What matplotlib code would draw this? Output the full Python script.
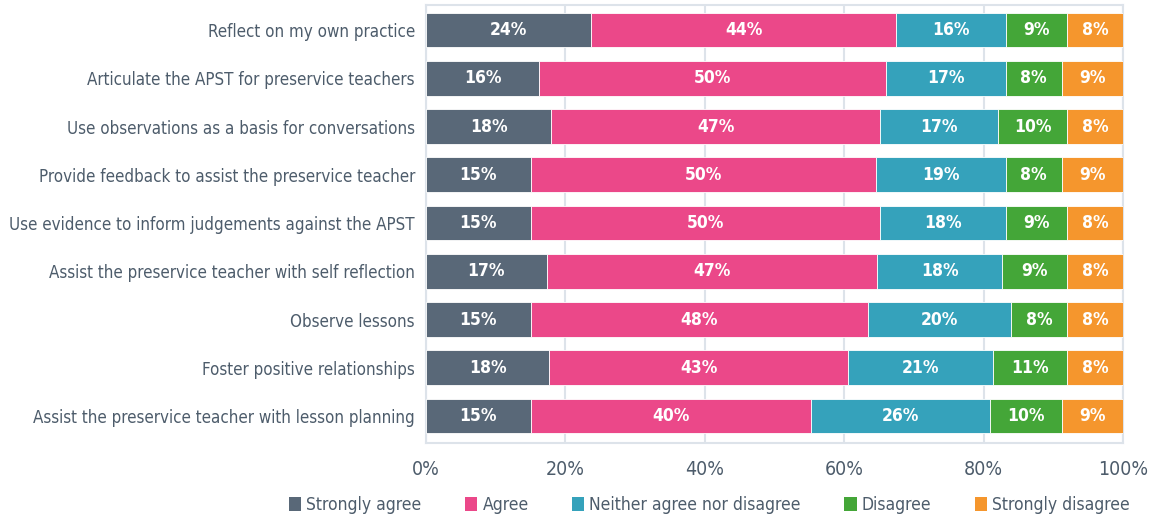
import matplotlib
matplotlib.use("Agg")
import matplotlib.pyplot as plt
from matplotlib.patches import Patch
import numpy as np

# DejaVu Sans Condensed stands in for the narrow face of the original
plt.rcParams["font.family"] = ["DejaVu Sans"]
plt.rcParams["font.stretch"] = "condensed"

categories = [
    "Reflect on my own practice",
    "Articulate the APST for preservice teachers",
    "Use observations as a basis for conversations",
    "Provide feedback to assist the preservice teacher",
    "Use evidence to inform judgements against the APST",
    "Assist the preservice teacher with self reflection",
    "Observe lessons",
    "Foster positive relationships",
    "Assist the preservice teacher with lesson planning",
]
responses = ["Strongly agree", "Agree", "Neither agree nor disagree",
             "Disagree", "Strongly disagree"]

strongly_agree = [23.7, 16.2, 18.0, 15.0, 15.0, 17.3, 15.0, 17.7, 15.0]
agree = [43.8, 49.8, 47.2, 49.6, 50.2, 47.4, 48.4, 42.9, 40.2]
neither = [15.7, 17.2, 16.9, 18.6, 18.0, 18.0, 20.5, 20.7, 25.7]
disagree = [8.8, 8.0, 9.9, 8.0, 8.8, 9.3, 8.1, 10.7, 10.3]
strongly_disagree = [8.0, 8.8, 8.0, 8.8, 8.0, 8.0, 8.0, 8.0, 8.8]

series = [strongly_agree, agree, neither, disagree, strongly_disagree]
colors = ["#596878", "#EB4889", "#35A2BB", "#44A638", "#F5962D"]
text_col = "#4d5c6b"
frame_col = "#dde3ea"

fig = plt.figure(figsize=(11.65, 5.17), dpi=100)
ax = fig.add_axes([426 / 1165, 1 - 443 / 517, 697 / 1165, 438 / 517])

y = np.arange(len(categories))
left = np.zeros(len(categories))
for vals, col in zip(series, colors):
    vals = np.asarray(vals)
    ax.barh(y, vals, left=left, height=0.72, color=col, edgecolor="white",
            linewidth=0.6, zorder=3)
    for yi, l, v in zip(y, left, vals):
        ax.text(l + v / 2, yi, f"{v:.0f}%", ha="center", va="center",
                color="white", fontsize=12.5, fontweight="bold", zorder=4)
    left += vals

ax.set_xlim(0, 100)
ax.set_ylim(8.56, -0.52)
ax.set_yticks(y)
ax.set_yticklabels(categories, fontsize=12.2, color=text_col)
ax.set_xticks([0, 20, 40, 60, 80, 100])
ax.set_xticklabels([f"{t}%" for t in range(0, 101, 20)], fontsize=14,
                   color=text_col)
ax.tick_params(axis="both", length=0)
ax.tick_params(axis="y", pad=8)
ax.tick_params(axis="x", pad=12)
ax.grid(axis="x", color=frame_col, linewidth=1.5, zorder=0)
for s in ax.spines.values():
    s.set_color(frame_col)
    s.set_linewidth(1.5)

handles = [Patch(facecolor=c, edgecolor="none") for c in colors]
fig.legend(handles, responses, loc="center", bbox_to_anchor=(0.609, 0.023),
           ncol=5, frameon=False, fontsize=12.5, handlelength=0.7,
           handleheight=0.9, handletextpad=0.3, columnspacing=2.5,
           labelcolor=text_col)

fig.savefig("out.png", dpi=100)
